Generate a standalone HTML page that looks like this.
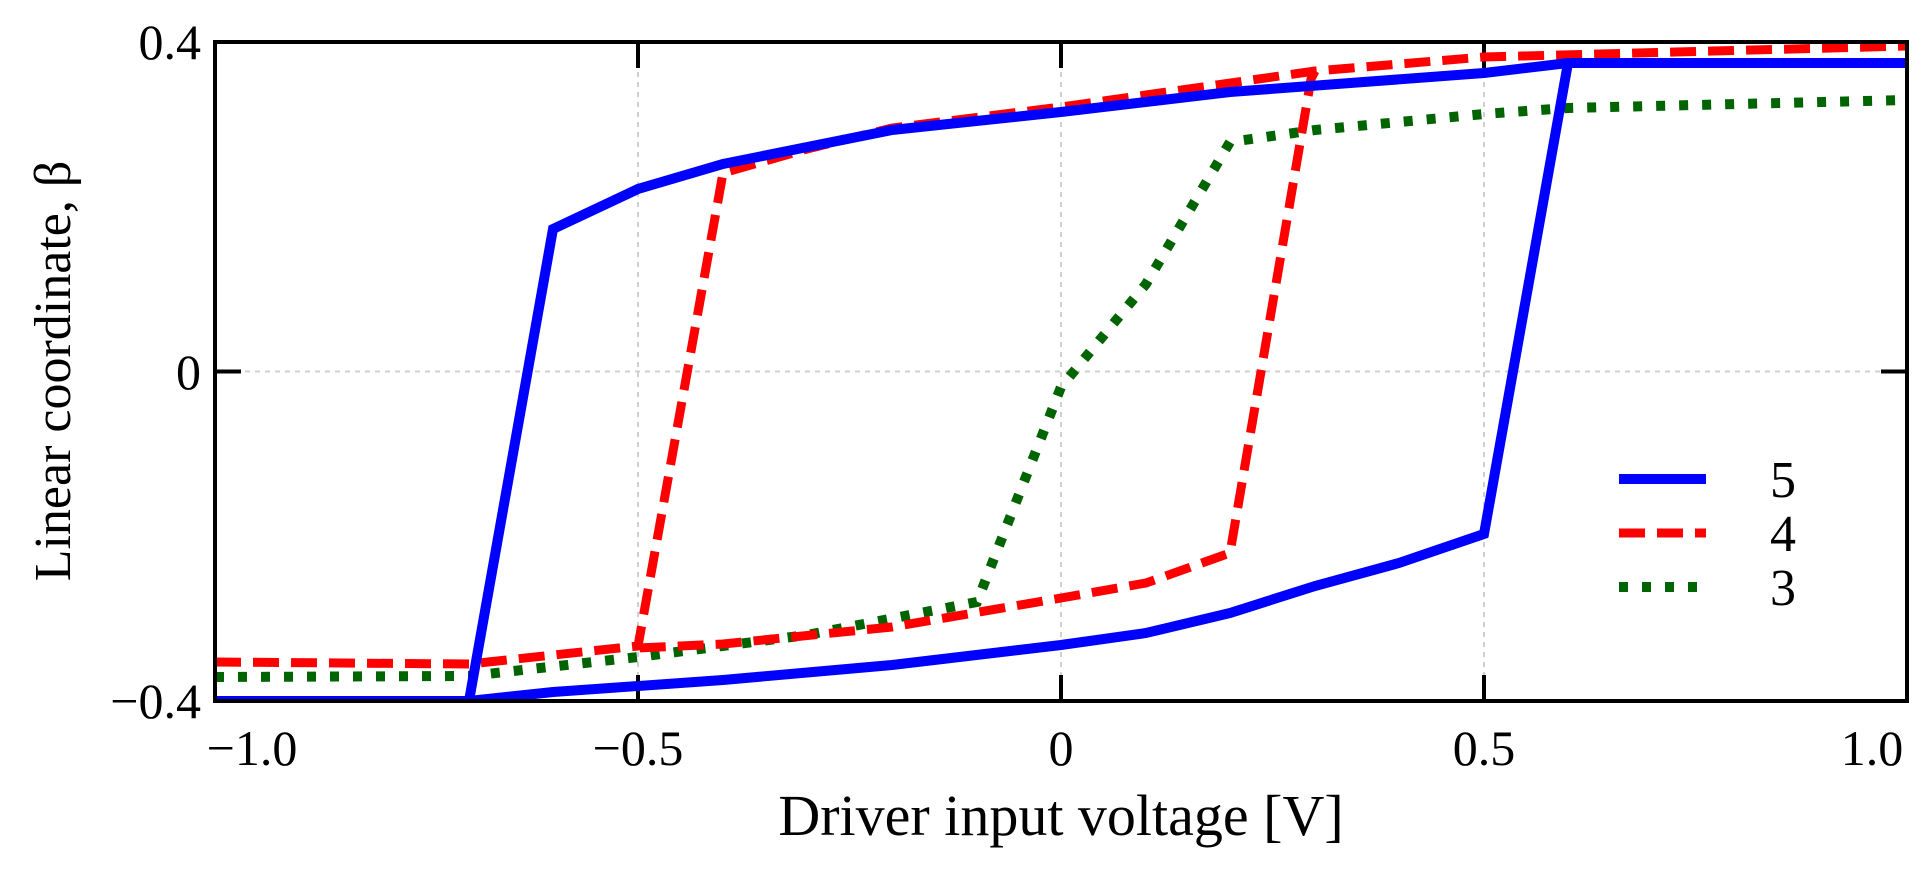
<!DOCTYPE html>
<html><head><meta charset="utf-8"><style>
html,body{margin:0;padding:0;background:#fff;}
svg{display:block;}
text{font-family:"Liberation Serif",serif;fill:#000;}
</style></head><body>
<svg width="1931" height="881" viewBox="0 0 1931 881" xmlns="http://www.w3.org/2000/svg">
<defs><clipPath id="c"><rect x="215" y="42" width="1692" height="659"/></clipPath></defs>
<g stroke="#d0d0d0" stroke-width="2" stroke-dasharray="5,5">
<line x1="638" y1="42" x2="638" y2="701"/>
<line x1="1061" y1="42" x2="1061" y2="701"/>
<line x1="1484" y1="42" x2="1484" y2="701"/>
<line x1="215" y1="371.5" x2="1907" y2="371.5"/>
</g>
<g stroke="#000" stroke-width="4">
<line x1="638" y1="42" x2="638" y2="68"/><line x1="1061" y1="42" x2="1061" y2="68"/><line x1="1484" y1="42" x2="1484" y2="68"/>
<line x1="638" y1="701" x2="638" y2="675"/><line x1="1061" y1="701" x2="1061" y2="675"/><line x1="1484" y1="701" x2="1484" y2="675"/>
<line x1="215" y1="371.5" x2="241" y2="371.5"/><line x1="1907" y1="371.5" x2="1881" y2="371.5"/>
</g>
<g clip-path="url(#c)" fill="none" stroke-linejoin="miter">
<polyline stroke="#006400" stroke-width="10" stroke-dasharray="9,14" points="
215,677 469,676 638,657 807,635 977,602 1061,387 1146,284 1230,142 1315,130 1484,114 1568,108 1907,100"/>
<polyline stroke="#ff0000" stroke-width="9" stroke-dasharray="26,12" points="
215,662 469,664 638,646 723,173 807,149 892,128 1061,107 1146,95 1315,71 1484,57 1907,46"/>
<polyline stroke="#ff0000" stroke-width="9" stroke-dasharray="26,12" points="
1315,71 1311,79 1230,553 1146,583 1061,598 892,627 723,644 638,648"/>
<polyline stroke="#0000ff" stroke-width="10" points="
215,701 469,701 553,229 638,189 723,164 892,130 1061,112 1230,92 1484,73 1568,63 1907,63"/>
<polyline stroke="#0000ff" stroke-width="10" points="
1568,63 1484,534 1399,563 1315,586 1230,613 1146,633 1061,645 892,665 723,680 553,692 469,701"/>
</g>
<rect x="215" y="42" width="1692" height="659" fill="none" stroke="#000" stroke-width="4"/>
<g font-size="50" text-anchor="end">
<text x="201" y="59">0.4</text>
<text x="201" y="389">0</text>
<text x="201" y="718">−0.4</text>
</g>
<g font-size="50" text-anchor="middle">
<text x="252" y="765">−1.0</text>
<text x="638" y="765">−0.5</text>
<text x="1061" y="765">0</text>
<text x="1484" y="765">0.5</text>
<text x="1872" y="765">1.0</text>
</g>
<text x="1061" y="835" font-size="58" text-anchor="middle">Driver input voltage [V]</text>
<text transform="translate(70,371) rotate(-90)" font-size="52" text-anchor="middle">Linear coordinate, β</text>
<line x1="1619" y1="479" x2="1706" y2="479" stroke="#0000ff" stroke-width="10"/>
<line x1="1619" y1="533" x2="1706" y2="533" stroke="#ff0000" stroke-width="9" stroke-dasharray="26,12"/>
<line x1="1619" y1="587" x2="1706" y2="587" stroke="#006400" stroke-width="10" stroke-dasharray="9,14"/>
<g font-size="52">
<text x="1770" y="497">5</text>
<text x="1770" y="551">4</text>
<text x="1770" y="605">3</text>
</g>
</svg>
</body></html>
